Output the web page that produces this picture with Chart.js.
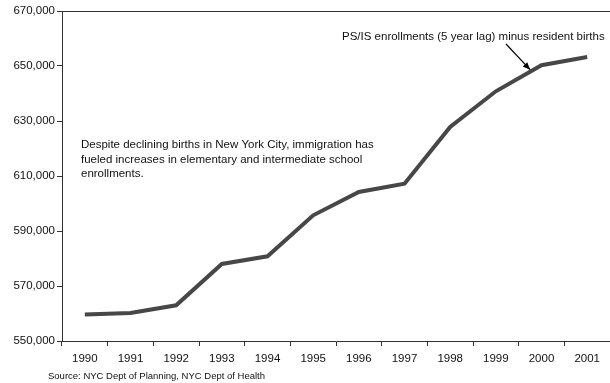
<!DOCTYPE html>
<html>
<head>
<meta charset="utf-8">
<script src="https://cdn.jsdelivr.net/npm/chart.js@4"></script>
<style>
  html, body { margin: 0; padding: 0; background: #fff; }
  canvas { display: block; }
</style>
</head>
<body>
<canvas id="enroll-chart" width="610" height="383"></canvas>
<script>
const years = ['1990', '1991', '1992', '1993', '1994', '1995', '1996', '1997', '1998', '1999', '2000', '2001'];
const netEnrollment = [559600, 560200, 563000, 578000, 580800, 595700, 604200, 607200, 627800, 640800, 650300, 653300];
const yTicks = [550000, 570000, 590000, 610000, 630000, 650000, 670000];

const seriesLabel = 'PS/IS enrollments (5 year lag) minus resident births';
const noteLines = [
    'Despite declining births in New York City, immigration has',
    'fueled increases in elementary and intermediate school',
    'enrollments.'
];
const sourceText = 'Source: NYC Dept of Planning, NYC Dept of Health';

const FONT = '"Liberation Sans", Arial, sans-serif';

// extra drawing: top frame line, notes, arrow, source line
const decorations = {
    id: 'decorations',
    afterDraw(chart) {
        const { ctx, chartArea, scales } = chart;
        ctx.save();

        // top border of the plot area
        ctx.strokeStyle = '#333';
        ctx.lineWidth = 1;
        ctx.beginPath();
        ctx.moveTo(chartArea.left, chartArea.top + 0.5);
        ctx.lineTo(chartArea.right, chartArea.top + 0.5);
        ctx.stroke();

        ctx.fillStyle = '#111';
        ctx.textBaseline = 'middle';
        ctx.font = '11.5px ' + FONT;

        // series callout
        ctx.textAlign = 'left';
        ctx.fillText(seriesLabel, 342, 37);

        // arrow pointing at the line between 1999 and 2000
        const f = 0.75;
        const tipX = scales.x.getPixelForValue(9) + f * (scales.x.getPixelForValue(10) - scales.x.getPixelForValue(9));
        const tipY = scales.y.getPixelForValue(netEnrollment[9] + f * (netEnrollment[10] - netEnrollment[9])) - 2;
        const startX = 506, startY = 44;
        ctx.strokeStyle = '#000';
        ctx.lineWidth = 1.2;
        ctx.beginPath();
        ctx.moveTo(startX, startY);
        ctx.lineTo(tipX, tipY);
        ctx.stroke();
        const ang = Math.atan2(tipY - startY, tipX - startX);
        ctx.fillStyle = '#000';
        ctx.beginPath();
        ctx.moveTo(tipX, tipY);
        ctx.lineTo(tipX - 8 * Math.cos(ang - 0.4), tipY - 8 * Math.sin(ang - 0.4));
        ctx.lineTo(tipX - 8 * Math.cos(ang + 0.4), tipY - 8 * Math.sin(ang + 0.4));
        ctx.closePath();
        ctx.fill();

        // explanatory note
        ctx.fillStyle = '#111';
        noteLines.forEach((line, i) => ctx.fillText(line, 81, 145 + i * 14.5));

        // source line
        ctx.font = '9.5px ' + FONT;
        ctx.fillText(sourceText, 48, 376);

        ctx.restore();
    }
};

const ctx = document.getElementById('enroll-chart').getContext('2d');
new Chart(ctx, {
    type: 'line',
    data: {
        labels: years,
        datasets: [{
            label: seriesLabel,
            data: netEnrollment,
            borderColor: '#474747',
            borderWidth: 4,
            pointRadius: 0,
            tension: 0,
            fill: false
        }]
    },
    options: {
        responsive: false,
        animation: false,
        layout: { padding: { top: 11, right: 0, left: 0, bottom: 0 } },
        plugins: {
            legend: { display: false },
            tooltip: { enabled: false }
        },
        scales: {
            x: {
                offset: true,
                grid: {
                    offset: true,
                    drawOnChartArea: false,
                    drawTicks: true,
                    tickLength: 5,
                    color: '#333'
                },
                border: { color: '#333', width: 1 },
                ticks: {
                    color: '#111',
                    padding: 6,
                    autoSkip: false,
                    maxRotation: 0,
                    font: { family: FONT, size: 11.5 }
                },
                afterFit(scale) { scale.height = 42; }
            },
            y: {
                min: 550000,
                max: 670000,
                afterBuildTicks(scale) {
                    scale.ticks = yTicks.map(v => ({ value: v }));
                },
                grid: {
                    drawOnChartArea: false,
                    drawTicks: true,
                    tickLength: 5,
                    color: '#333'
                },
                border: { color: '#333', width: 1 },
                ticks: {
                    color: '#111',
                    padding: 2,
                    autoSkip: false,
                    font: { family: FONT, size: 11.5 },
                    callback: v => v.toLocaleString('en-US')
                },
                afterFit(scale) { scale.width = 62; }
            }
        }
    },
    plugins: [decorations]
});
</script>
</body>
</html>
